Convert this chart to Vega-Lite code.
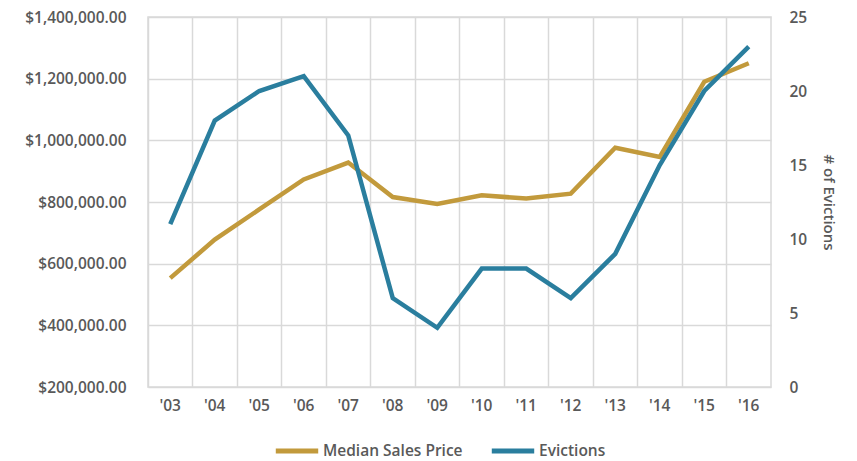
{
  "$schema": "https://vega.github.io/schema/vega-lite/v6.json",
  "autosize": {"type": "none"},
  "padding": {"left": 148, "top": 17, "right": 86, "bottom": 74},
  "width": 623,
  "height": 370,
  "background": "white",
  "config": {
    "view": {"stroke": "#d9d9d9", "strokeWidth": 1.5},
    "font": "Open Sans",
    "axis": {
      "labelFont": "Open Sans",
      "labelFontWeight": 600,
      "labelFontSize": 15.5,
      "labelColor": "#595959",
      "titleFont": "Open Sans",
      "titleFontWeight": 600,
      "titleFontSize": 15,
      "titleColor": "#595959",
      "ticks": false,
      "domain": false,
      "gridColor": "#d9d9d9",
      "gridWidth": 1.5
    },
    "legend": {
      "labelFont": "Open Sans",
      "labelFontWeight": 600,
      "labelFontSize": 15.5,
      "labelColor": "#595959"
    }
  },
  "data": {
    "values": [
      {"year": "'03", "price": 553000, "evictions": 11},
      {"year": "'04", "price": 678000, "evictions": 18},
      {"year": "'05", "price": 776000, "evictions": 20},
      {"year": "'06", "price": 873000, "evictions": 21},
      {"year": "'07", "price": 928000, "evictions": 17},
      {"year": "'08", "price": 816000, "evictions": 6},
      {"year": "'09", "price": 794000, "evictions": 4},
      {"year": "'10", "price": 822000, "evictions": 8},
      {"year": "'11", "price": 811000, "evictions": 8},
      {"year": "'12", "price": 827000, "evictions": 6},
      {"year": "'13", "price": 976000, "evictions": 9},
      {"year": "'14", "price": 946000, "evictions": 15},
      {"year": "'15", "price": 1190000, "evictions": 20},
      {"year": "'16", "price": 1250000, "evictions": 23}
    ]
  },
  "encoding": {
    "x": {
      "field": "year",
      "type": "ordinal",
      "sort": null,
      "bandPosition": 0.5,
      "scale": {"type": "band", "paddingInner": 0, "paddingOuter": 0},
      "axis": {"title": null, "labelAngle": 0, "bandPosition": 0, "labelPadding": 11, "grid": true}
    },
    "color": {
      "scale": {"domain": ["Median Sales Price", "Evictions"], "range": ["#C29A3C", "#2A7E9E"]},
      "legend": {
        "title": null,
        "orient": "none",
        "direction": "horizontal",
        "legendX": 125,
        "legendY": 410,
        "symbolType": "stroke",
        "symbolSize": 1800,
        "symbolStrokeWidth": 5,
        "columnPadding": 18,
        "labelOffset": 2
      }
    }
  },
  "layer": [
    {
      "mark": {"type": "line", "strokeWidth": 4.5},
      "encoding": {
        "y": {
          "field": "price",
          "type": "quantitative",
          "scale": {"domain": [200000, 1400000], "nice": false, "zero": false},
          "axis": {"title": null, "values": [200000, 400000, 600000, 800000, 1000000, 1200000, 1400000], "format": "$,.2f", "labelPadding": 22, "grid": true}
        },
        "color": {"datum": "Median Sales Price"}
      }
    },
    {
      "mark": {"type": "line", "strokeWidth": 4.5},
      "encoding": {
        "y": {
          "field": "evictions",
          "type": "quantitative",
          "scale": {"domain": [0, 25], "nice": false},
          "axis": {"orient": "right", "title": "# of Evictions", "values": [0, 5, 10, 15, 20, 25], "labelPadding": 18, "grid": false, "titlePadding": 14}
        },
        "color": {"datum": "Evictions"}
      }
    }
  ],
  "resolve": {"scale": {"y": "independent"}}
}
